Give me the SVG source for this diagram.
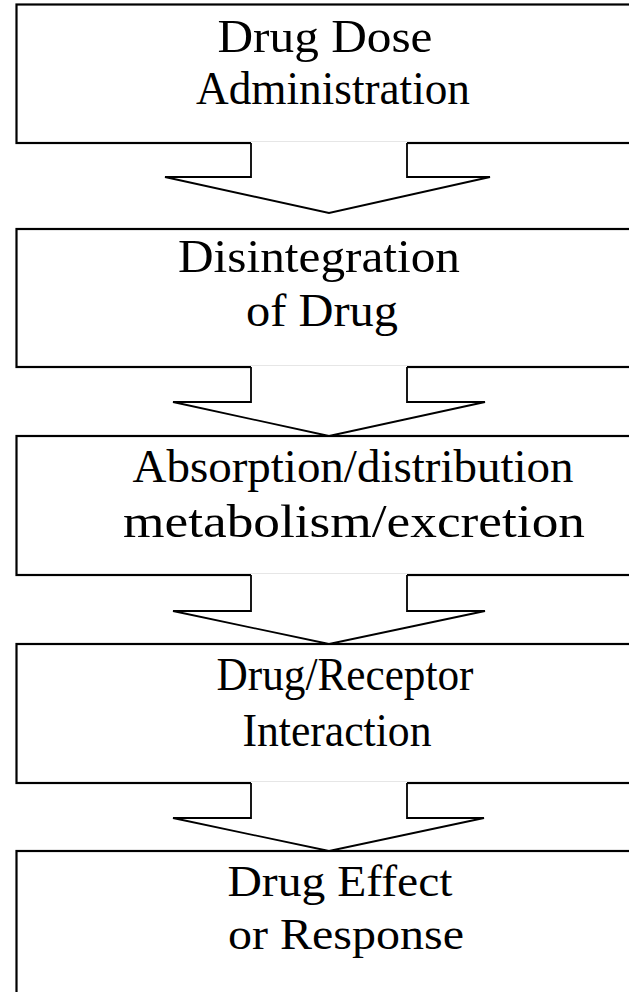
<svg xmlns="http://www.w3.org/2000/svg" width="629" height="992" viewBox="0 0 629 992">
  <style>
    .box { fill: #fff; stroke: #000; stroke-width: 2.2; }
    .arrow-fill { fill: #fff; stroke: none; }
    .arrow-line { fill: none; stroke: #000; stroke-width: 1.8; stroke-linejoin: miter; }
    .label { font-family: "Liberation Serif", "Times New Roman", serif; font-size: 47px; fill: #000; text-anchor: middle; }
    .plain { font-size: 45px; }
  </style>
  <rect width="629" height="992" fill="#fff"/>

  <!-- process boxes (right edges run past the page) -->
  <g id="node-dose">
    <rect class="box" x="16.5" y="4.5" width="640" height="138.5"/>
    <text class="label" x="325" y="52" textLength="215" lengthAdjust="spacingAndGlyphs">Drug Dose</text>
    <text class="label" x="333" y="104" textLength="274" lengthAdjust="spacingAndGlyphs">Administration</text>
  </g>
  <g id="node-disintegration">
    <rect class="box" x="16.5" y="229" width="640" height="138"/>
    <text class="label" x="319" y="272" textLength="282" lengthAdjust="spacingAndGlyphs">Disintegration</text>
    <text class="label" x="322" y="326" textLength="152" lengthAdjust="spacingAndGlyphs">of Drug</text>
  </g>
  <g id="node-adme">
    <rect class="box" x="16.5" y="436" width="640" height="139"/>
    <text class="label" x="353" y="482" textLength="441" lengthAdjust="spacingAndGlyphs">Absorption/distribution</text>
    <text class="label" x="354" y="537" textLength="462" lengthAdjust="spacingAndGlyphs">metabolism/excretion</text>
  </g>
  <g id="node-receptor">
    <rect class="box" x="16.5" y="644" width="640" height="139"/>
    <text class="label" x="345" y="690" textLength="257" lengthAdjust="spacingAndGlyphs">Drug/Receptor</text>
    <text class="label" x="337" y="746" textLength="189" lengthAdjust="spacingAndGlyphs">Interaction</text>
  </g>
  <g id="node-effect">
    <rect class="box" x="16.5" y="851" width="640" height="160"/>
    <text class="label plain" x="340" y="896" textLength="225" lengthAdjust="spacingAndGlyphs">Drug Effect</text>
    <text class="label plain" x="346" y="949" textLength="236" lengthAdjust="spacingAndGlyphs">or Response</text>
  </g>

  <!-- block arrows between steps; open at the top where they join the box above -->
  <g id="connectors">
    <g id="arrow-1">
      <polygon class="arrow-fill" points="251,142 407,142 407,177 490,177 329,213 165,177 251,177"/>
      <polyline class="arrow-line" points="251,143 251,177 165,177 329,213 490,177 407,177 407,143"/>
    </g>
    <g id="arrow-2">
      <polygon class="arrow-fill" points="251,366 407,366 407,402 485,402 329,436 173,402 251,402"/>
      <polyline class="arrow-line" points="251,367 251,402 173,402 329,436 485,402 407,402 407,367"/>
    </g>
    <g id="arrow-3">
      <polygon class="arrow-fill" points="251,574 407,574 407,611 485,611 329,644 173,611 251,611"/>
      <polyline class="arrow-line" points="251,575 251,611 173,611 329,644 485,611 407,611 407,575"/>
    </g>
    <g id="arrow-4">
      <polygon class="arrow-fill" points="251,782 407,782 407,818 484,818 329,851 173,818 251,818"/>
      <polyline class="arrow-line" points="251,783 251,818 173,818 329,851 484,818 407,818 407,783"/>
    </g>
  </g>
</svg>
